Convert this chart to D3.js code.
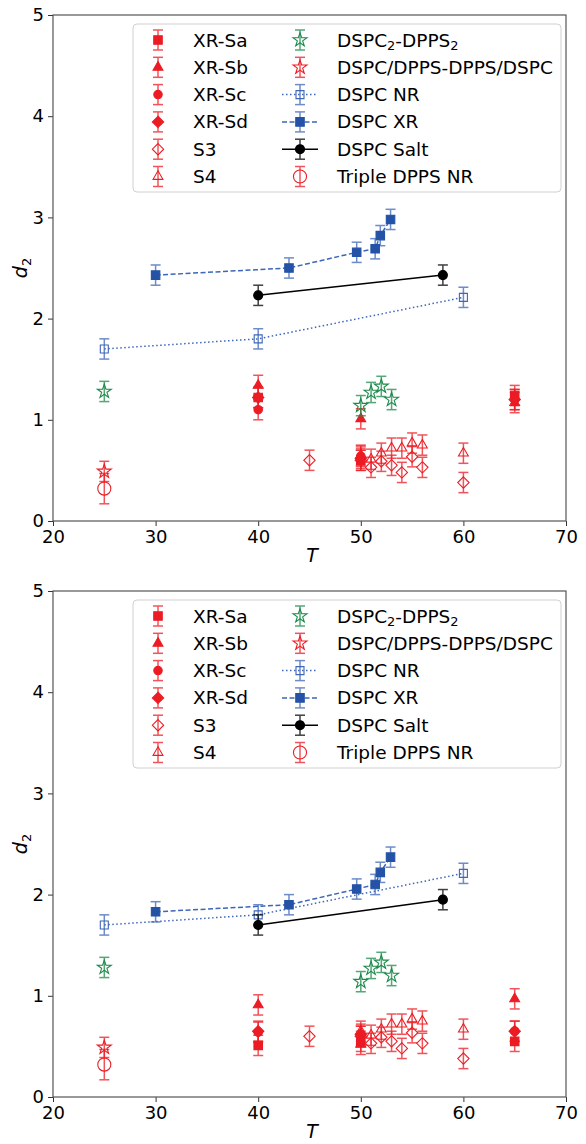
<!DOCTYPE html>
<html><head><meta charset="utf-8">
<script src="https://cdn.jsdelivr.net/npm/d3@7"></script>
<style>body{margin:0;background:#fff}svg{display:block;font-family:"DejaVu Sans",sans-serif}</style>
</head><body>
<svg id="c" width="586" height="1144"></svg>
<script>
// ---- data ----
const xTicks = [20,30,40,50,60,70];
const yTicks = [0,1,2,3,4,5];
const xrT = [40,50,65];
const xrSaA = [1.22,0.60,1.24], xrSbA = [1.34,1.01,1.17], xrScA = [1.10,0.64,1.20], xrSdA = [1.22,0.62,1.20];
const xrSaB = [0.51,0.55,0.55], xrSbB = [0.91,0.52,0.97], xrScB = [0.64,0.60,0.65], xrSdB = [0.65,0.62,0.65];
const xrErr = 0.1;
const s3T = [45,50,51,52,53,54,55,56,60];
const s3V = [0.60,0.60,0.53,0.59,0.55,0.48,0.635,0.53,0.38];
const s4T = [50,51,52,53,54,55,56,60];
const s4V = [0.65,0.61,0.67,0.72,0.72,0.77,0.75,0.67];
const greenT = [25,50,51,52,53];
const greenV = [1.28,1.14,1.27,1.33,1.20];
const redStarT = [25], redStarV = [0.49];
const nrT = [25,40,60], nrV = [1.70,1.80,2.21];
const xrDT = [30,43,49.6,51.4,51.9,52.9];
const xrDA = [2.43,2.50,2.655,2.69,2.82,2.98];
const xrDB = [1.83,1.90,2.055,2.10,2.22,2.37];
const saltT = [40,58], saltA = [2.23,2.43], saltB = [1.70,1.95];
const tripT = [25], tripV = [0.32], tripErr = 0.15;
const labels = ["XR-Sa","XR-Sb","XR-Sc","XR-Sd","S3","S4","DSPC2-DPPS2","DSPC/DPPS-DPPS/DSPC","DSPC NR","DSPC XR","DSPC Salt","Triple DPPS NR"];

const RED="#ec1c24", GREEN="#1b8a4a", BLUE="#2452a6", BLUE2="#3d66b8", BLACK="#000";
const svg = d3.select("#c");
const diamond = {draw(ctx,size){const r=Math.sqrt(size)/Math.SQRT2*1.0; ctx.moveTo(0,-r);ctx.lineTo(r,0);ctx.lineTo(0,r);ctx.lineTo(-r,0);ctx.closePath();}};

const ST = {
  "XR-Sa":{sym:d3.symbolSquare,size:72,fill:RED,stroke:RED,ecol:RED},
  "XR-Sb":{sym:d3.symbolTriangle,size:42,fill:RED,stroke:RED,ecol:RED},
  "XR-Sc":{sym:d3.symbolCircle,size:56,fill:RED,stroke:RED,ecol:RED},
  "XR-Sd":{sym:diamond,size:64,fill:RED,stroke:RED,ecol:RED},
  "S3":{sym:diamond,size:64,fill:"none",stroke:RED,ecol:RED},
  "S4":{sym:d3.symbolTriangle,size:42,fill:"none",stroke:RED,ecol:RED},
  "DSPC2-DPPS2":{sym:d3.symbolStar,size:60,fill:"none",stroke:GREEN,ecol:GREEN},
  "DSPC/DPPS-DPPS/DSPC":{sym:d3.symbolStar,size:60,fill:"none",stroke:RED,ecol:RED},
  "DSPC NR":{sym:d3.symbolSquare,size:64,fill:"none",stroke:BLUE2,ecol:BLUE2,line:BLUE2,dash:"1.5,2.5"},
  "DSPC XR":{sym:d3.symbolSquare,size:72,fill:BLUE,stroke:BLUE,ecol:BLUE2,line:BLUE2,dash:"5,2.5"},
  "DSPC Salt":{sym:d3.symbolCircle,size:64,fill:BLACK,stroke:BLACK,ecol:BLACK,line:BLACK,dash:null},
  "Triple DPPS NR":{sym:d3.symbolCircle,size:135,fill:"none",stroke:RED,ecol:RED}
};

function drawPanel(top, xr, xrD, salt){
  const x = d3.scaleLinear().domain([20,70]).range([53,566]);
  const y = d3.scaleLinear().domain([0,5]).range([top+506, top]);
  const g = svg.append("g");
  const styleAx = a=>{a.select(".domain").remove();a.selectAll("line").attr("stroke","#333");a.selectAll("text").attr("font-size",18).attr("fill","#000").attr("font-family","DejaVu Sans");};
  g.append("g").attr("transform",`translate(0,${top+506})`)
    .call(d3.axisBottom(x).tickValues(xTicks).tickFormat(d3.format("d")).tickSize(5).tickPadding(4)).call(styleAx);
  g.append("g").attr("transform",`translate(53,0)`)
    .call(d3.axisLeft(y).tickValues(yTicks).tickFormat(d3.format("d")).tickSize(5).tickPadding(4)).call(styleAx);
  g.append("rect").attr("x",53).attr("y",top).attr("width",513).attr("height",506)
    .attr("fill","none").attr("stroke","#555").attr("stroke-width",1.2);
  g.append("text").attr("x",312).attr("y",top+547).attr("text-anchor","middle")
    .attr("font-size",19).attr("font-style","italic").text("T");
  const yl = g.append("text").attr("transform",`translate(27,${top+253}) rotate(-90)`).attr("text-anchor","middle").attr("font-size",19);
  yl.append("tspan").attr("font-style","italic").text("d");
  yl.append("tspan").attr("font-size",13).attr("dy",4).text("2");

  const series = [
    ["XR-Sa",xrT,xr[0],xrErr],["XR-Sb",xrT,xr[1],xrErr],["XR-Sc",xrT,xr[2],xrErr],["XR-Sd",xrT,xr[3],xrErr],
    ["S3",s3T,s3V,0.1],["S4",s4T,s4V,0.1],["DSPC2-DPPS2",greenT,greenV,0.1],["DSPC/DPPS-DPPS/DSPC",redStarT,redStarV,0.1],
    ["DSPC NR",nrT,nrV,0.1],["DSPC XR",xrDT,xrD,0.1],["DSPC Salt",saltT,salt,0.1],["Triple DPPS NR",tripT,tripV,tripErr]
  ];
  series.forEach(([name,T,V,err])=>{
    const s = ST[name];
    const pts = T.map((t,i)=>({t,v:V[i]}));
    if(s.line){
      g.append("path").datum(pts).attr("fill","none").attr("stroke",s.line).attr("stroke-width",1.5)
        .attr("stroke-dasharray",s.dash).attr("d",d3.line().x(d=>x(d.t)).y(d=>y(d.v)));
    }
    const eg = g.append("g").attr("stroke",s.ecol).attr("stroke-width",1.5).attr("opacity",0.75);
    pts.forEach(d=>{
      const px=x(d.t), y1=y(d.v-err), y2=y(d.v+err);
      eg.append("line").attr("x1",px).attr("x2",px).attr("y1",y1).attr("y2",y2);
      eg.append("line").attr("x1",px-5).attr("x2",px+5).attr("y1",y1).attr("y2",y1);
      eg.append("line").attr("x1",px-5).attr("x2",px+5).attr("y1",y2).attr("y2",y2);
    });
    g.selectAll(null).data(pts).join("path")
      .attr("transform",d=>`translate(${x(d.t)},${y(d.v)})`)
      .attr("d",d3.symbol(s.sym,s.size)).attr("fill",s.fill).attr("stroke",s.stroke).attr("stroke-width",1.1);
  });

  const lg = g.append("g");
  lg.append("rect").attr("x",133).attr("y",top+9).attr("width",428).attr("height",168).attr("rx",4)
    .attr("fill","#fff").attr("fill-opacity",0.85).attr("stroke","#d0d0d0");
  labels.forEach((name,i)=>{
    const col = i<6?0:1, row = i%6;
    const cy = top+25+row*27.3;
    const mx = col===0?158:300, tx = col===0?193:337;
    const s = ST[name];
    if(s.line){
      lg.append("line").attr("x1",mx-18).attr("x2",mx+18).attr("y1",cy).attr("y2",cy)
        .attr("stroke",s.line).attr("stroke-width",1.5).attr("stroke-dasharray",s.dash);
    }
    const e = lg.append("g").attr("stroke",s.ecol).attr("stroke-width",1.5).attr("opacity",0.75);
    e.append("line").attr("x1",mx).attr("x2",mx).attr("y1",cy-10).attr("y2",cy+10);
    e.append("line").attr("x1",mx-5).attr("x2",mx+5).attr("y1",cy-10).attr("y2",cy-10);
    e.append("line").attr("x1",mx-5).attr("x2",mx+5).attr("y1",cy+10).attr("y2",cy+10);
    lg.append("path").attr("transform",`translate(${mx},${cy})`).attr("d",d3.symbol(s.sym,s.size))
      .attr("fill",s.fill).attr("stroke",s.stroke).attr("stroke-width",1.1);
    const t = lg.append("text").attr("x",tx).attr("y",cy+6.5).attr("font-size",18.5);
    if(name==="DSPC2-DPPS2"){
      t.append("tspan").text("DSPC");
      t.append("tspan").attr("font-size",13).attr("dy",3).text("2");
      t.append("tspan").attr("dy",-3).text("-DPPS");
      t.append("tspan").attr("font-size",13).attr("dy",3).text("2");
    } else t.text(name);
  });
}
drawPanel(15,[xrSaA,xrSbA,xrScA,xrSdA],xrDA,saltA);
drawPanel(591,[xrSaB,xrSbB,xrScB,xrSdB],xrDB,saltB);
</script>
</body></html>
